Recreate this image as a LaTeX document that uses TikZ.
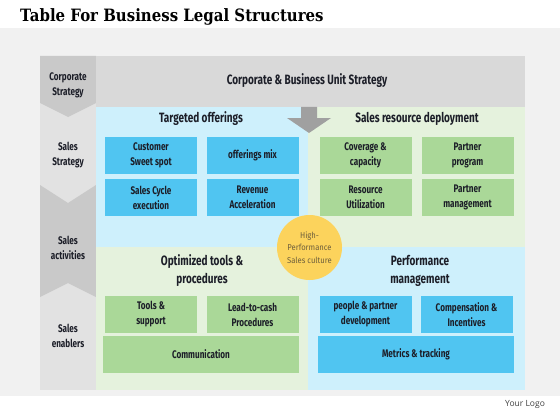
\documentclass[tikz,border=0pt]{standalone}
\usepackage{fontspec}
\setmainfont[FakeStretch=0.74]{Fira Sans}
\newfontfamily\titlefont[FakeStretch=0.88]{DejaVu Serif}
\newfontfamily\circlefont[FakeStretch=0.9]{Fira Sans}
\newfontfamily\logofont{Open Sans}
\usetikzlibrary{positioning}
\definecolor{bggray}{RGB}{241,241,241}
\definecolor{bandgray}{RGB}{217,217,217}
\definecolor{coldark}{RGB}{201,201,201}
\definecolor{collight}{RGB}{226,226,226}
\definecolor{paleblue}{RGB}{206,240,252}
\definecolor{palegreen}{RGB}{229,242,221}
\definecolor{boxblue}{RGB}{80,197,241}
\definecolor{boxgreen}{RGB}{170,216,152}
\definecolor{culture}{RGB}{252,211,92}
\definecolor{arrowgray}{RGB}{160,160,160}
\definecolor{ink}{RGB}{28,30,40}
\definecolor{cultureink}{RGB}{110,95,60}
\tikzset{cell/.style={minimum width=92pt,minimum height=37pt,inner sep=0pt,align=center,text=ink,font=\bfseries\fontsize{11}{15}\selectfont},
  bcell/.style={cell,fill=boxblue},
  gcell/.style={cell,fill=boxgreen},
  side/.style={align=center,text=ink,font=\bfseries\fontsize{11}{15}\selectfont},
  head/.style={align=center,text=ink,font=\bfseries\fontsize{13.5}{18}\selectfont}}

\begin{document}
\begin{tikzpicture}[x=1pt,y=-1pt]
    \useasboundingbox (0,0) rectangle (560,420);
    \fill[bggray] (0,28) rectangle (560,396);

    % left column
    \fill[collight] (40,56) rectangle (96,390);
    \fill[coldark] (40,56) -- (96,56) -- (96,103) -- (68,117) -- (40,103) -- cycle;
    \fill[coldark] (40,185) -- (68,203) -- (96,185) -- (96,297) -- (68,283) -- (40,297) -- cycle;

    % band and quadrants
    \fill[bandgray] (96,56) rectangle (525,107);
    \fill[paleblue] (96,107) rectangle (308,247);
    \fill[palegreen] (308,107) rectangle (525,247);
    \fill[palegreen] (96,247) rectangle (308,390);
    \fill[paleblue] (308,247) rectangle (525,390);

    \node[anchor=base west,inner sep=0pt,font=\titlefont\bfseries\fontsize{17}{19}\selectfont] (title) at (20,22) {Table For Business Legal Structures};

    \node[side] (corp) at (68,85) {Corporate\\Strategy};
    \node[side] (strat) at (68,155) {Sales\\Strategy};
    \node[side] (act) at (68,248) {Sales\\activities};
    \node[side] (enab) at (68,336) {Sales\\enablers};

    \node[head] (band) at (307,81) {Corporate \& Business Unit Strategy};
    \node[head] (target) at (201,119) {Targeted offerings};
    \node[head] (deploy) at (417,119) {Sales resource deployment};
    \node[head] (tools) at (202,271) {Optimized tools \&\\procedures};
    \node[head] (perf) at (420,271) {Performance\\management};

    \node[bcell] (sweet) at (151,155) {Customer\\Sweet spot};
    \node[bcell] (mix) at (252.5,155) {offerings mix};
    \node[bcell] (cycle) at (151,197.5) {Sales Cycle\\execution};
    \node[bcell] (revenue) at (252.5,197.5) {Revenue\\Acceleration};

    \node[gcell] (coverage) at (365.5,155.5) {Coverage \&\\capacity};
    \node[gcell] (program) at (467.5,155.5) {Partner\\program};
    \node[gcell] (utilize) at (365.5,197.5) {Resource\\Utilization};
    \node[gcell] (manage) at (467.5,197.5) {Partner\\management};

    \node[gcell] (support) at (151,314.5) {Tools \&\\support};
    \node[gcell] (lead) at (252.5,314.5) {Lead-to-cash\\Procedures};
    \node[gcell,minimum width=196pt] (comm) at (201,354.5) {Communication};

    \node[bcell] (people) at (365.5,314.5) {people \& partner\\development};
    \node[bcell] (comp) at (466.5,314.5) {Compensation \&\\Incentives};
    \node[bcell,minimum width=196pt] (metrics) at (416,354.5) {Metrics \& tracking};

    % arrow from the band
    \fill[arrowgray] (301,107) -- (317,107) -- (317,118) -- (331,118) -- (309,133) -- (287,118) -- (301,118) -- cycle;

    \node[circle,fill=culture,minimum size=65pt,inner sep=0pt,align=center,text=cultureink,font=\circlefont\fontsize{8.5}{12.5}\selectfont] (culture) at (309.5,247.5) {High-\\Performance\\Sales culture};

    \node[anchor=base west,inner sep=0pt,text=black!75,font=\logofont\fontsize{8.5}{10}\selectfont] (logo) at (505,406) {Your Logo};
\end{tikzpicture}
\end{document}
